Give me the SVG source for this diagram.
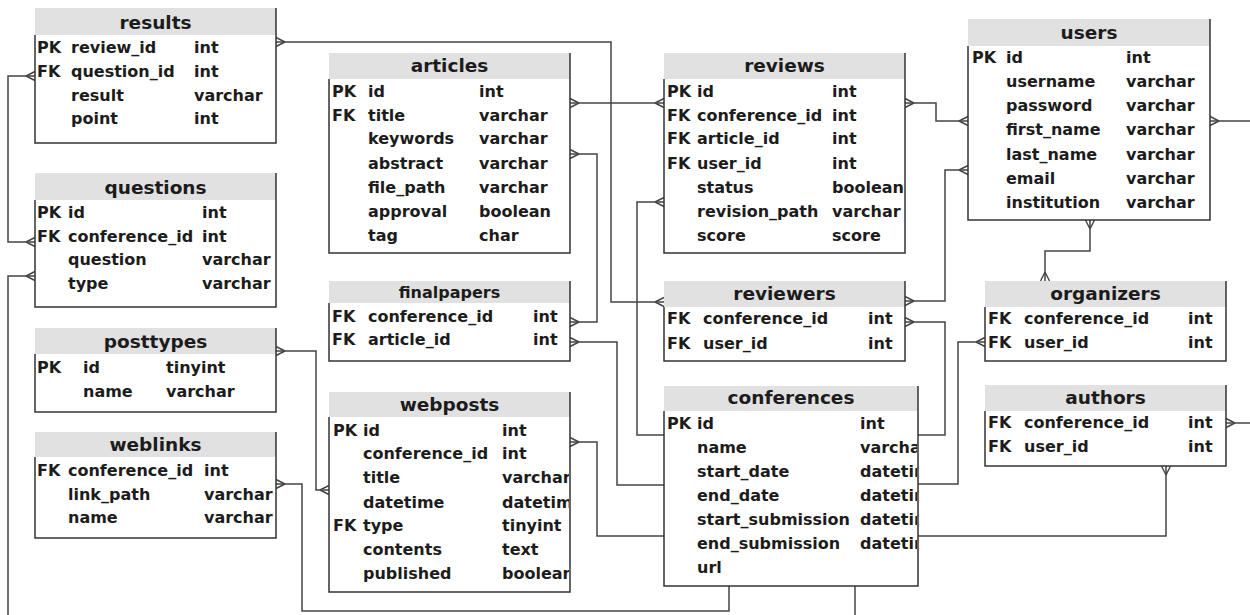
<svg xmlns="http://www.w3.org/2000/svg" width="1250" height="615" viewBox="0 0 1250 615">
<style>
text{font-family:"DejaVu Sans","Verdana",sans-serif;font-weight:bold;fill:#1c1c1c}
.t{font-size:18.5px;text-anchor:middle}
.ts{font-size:16px;text-anchor:middle}
.r{font-size:16px}
.hd{fill:#e1e1e1}
.bd{fill:#fff}
.bx{fill:none;stroke:#333;stroke-width:1.5}
.cn{fill:none;stroke:#444;stroke-width:1.5}
.cf{marker-start:url(#crow)}
.cb{marker-start:url(#crow);marker-end:url(#crow)}
</style>
<defs>
<marker id="crow" markerUnits="userSpaceOnUse" viewBox="-11 -6 12 12" refX="0" refY="0" markerWidth="12" markerHeight="12" orient="auto-start-reverse" overflow="visible">
<path d="M-9,0 L0,-4.5 M-9,0 L0,4.5" fill="none" stroke="#444" stroke-width="1.4"/>
</marker>
<clipPath id="cpWeb"><rect x="329" y="392" width="240" height="200"/></clipPath>
<clipPath id="cpConf"><rect x="664" y="386" width="253" height="200"/></clipPath>
</defs>
<rect width="1250" height="615" fill="#fff"/>

<g id="connectors">
<path class="cn cb" d="M276,42 H611 V302 H664"/>
<path class="cn cb" d="M570,103 H664"/>
<path class="cn cb" d="M570,154 H597 V322 H570"/>
<path class="cn cf" d="M570,342 H617 V485 H664"/>
<path class="cn cf" d="M664,202 H637 V435 H664"/>
<path class="cn cf" d="M570,442 H597 V536 H664"/>
<path class="cn cb" d="M905,103 H936 V121 H968"/>
<path class="cn cb" d="M905,301 H945 V170 H968"/>
<path class="cn cf" d="M905,322 H945 V435 H918"/>
<path class="cn cf" d="M985,342 H958 V484 H918"/>
<path class="cn cb" d="M1090,220 V251 H1045 V281"/>
<path class="cn cf" d="M1210,121 H1252"/>
<path class="cn cf" d="M1226,423 H1252"/>
<path class="cn cf" d="M1166,466 V536 H918"/>
<path class="cn cf" d="M276,484 H302 V611 H729 V586"/>
<path class="cn" d="M855,586 V617"/>
<path class="cn cb" d="M35,76 H8 V242 H35"/>
<path class="cn cf" d="M35,276 H8 V617"/>
<path class="cn cb" d="M276,351 H316 V490 H329"/>
</g>

<g id="results">
<rect class="bd" x="35" y="35" width="241" height="108"/>
<rect class="hd" x="35" y="8" width="241" height="27"/>
<path class="bx" d="M35,35 V143 H276 V8"/>
<text class="t" x="155.5" y="29">results</text>
<text class="r" x="37" y="53">PK</text><text class="r" x="71" y="53">review_id</text><text class="r" x="194" y="53">int</text>
<text class="r" x="37" y="77">FK</text><text class="r" x="71" y="77">question_id</text><text class="r" x="194" y="77">int</text>
<text class="r" x="71" y="101">result</text><text class="r" x="194" y="101">varchar</text>
<text class="r" x="71" y="124">point</text><text class="r" x="194" y="124">int</text>
</g>

<g id="questions">
<rect class="bd" x="35" y="200" width="241" height="107"/>
<rect class="hd" x="35" y="173" width="241" height="27"/>
<path class="bx" d="M35,200 V307 H276 V173"/>
<text class="t" x="155.5" y="194">questions</text>
<text class="r" x="37" y="218">PK</text><text class="r" x="68" y="218">id</text><text class="r" x="202" y="218">int</text>
<text class="r" x="37" y="242">FK</text><text class="r" x="68" y="242">conference_id</text><text class="r" x="202" y="242">int</text>
<text class="r" x="68" y="265">question</text><text class="r" x="202" y="265">varchar</text>
<text class="r" x="68" y="289">type</text><text class="r" x="202" y="289">varchar</text>
</g>

<g id="posttypes">
<rect class="bd" x="35" y="354" width="241" height="58"/>
<rect class="hd" x="35" y="328" width="241" height="26"/>
<path class="bx" d="M35,354 V412 H276 V328"/>
<text class="t" x="155.5" y="348">posttypes</text>
<text class="r" x="37" y="373">PK</text><text class="r" x="83" y="373">id</text><text class="r" x="166" y="373">tinyint</text>
<text class="r" x="83" y="397">name</text><text class="r" x="166" y="397">varchar</text>
</g>

<g id="weblinks">
<rect class="bd" x="35" y="457" width="241" height="81"/>
<rect class="hd" x="35" y="432" width="241" height="25"/>
<path class="bx" d="M35,457 V538 H276 V432"/>
<text class="t" x="155.5" y="451">weblinks</text>
<text class="r" x="37" y="476">FK</text><text class="r" x="68" y="476">conference_id</text><text class="r" x="204" y="476">int</text>
<text class="r" x="68" y="500">link_path</text><text class="r" x="204" y="500">varchar</text>
<text class="r" x="68" y="523">name</text><text class="r" x="204" y="523">varchar</text>
</g>

<g id="articles">
<rect class="bd" x="329" y="79" width="241" height="174"/>
<rect class="hd" x="329" y="53" width="241" height="26"/>
<path class="bx" d="M329,79 V253 H570 V53"/>
<text class="t" x="449.5" y="72">articles</text>
<text class="r" x="332" y="97">PK</text><text class="r" x="368" y="97">id</text><text class="r" x="479" y="97">int</text>
<text class="r" x="332" y="121">FK</text><text class="r" x="368" y="121">title</text><text class="r" x="479" y="121">varchar</text>
<text class="r" x="368" y="144">keywords</text><text class="r" x="479" y="144">varchar</text>
<text class="r" x="368" y="169">abstract</text><text class="r" x="479" y="169">varchar</text>
<text class="r" x="368" y="193">file_path</text><text class="r" x="479" y="193">varchar</text>
<text class="r" x="368" y="217">approval</text><text class="r" x="479" y="217">boolean</text>
<text class="r" x="368" y="241">tag</text><text class="r" x="479" y="241">char</text>
</g>

<g id="finalpapers">
<rect class="bd" x="329" y="303" width="241" height="58"/>
<rect class="hd" x="329" y="281" width="241" height="22"/>
<path class="bx" d="M329,303 V361 H570 V281"/>
<text class="ts" x="449.5" y="297.5">finalpapers</text>
<text class="r" x="332" y="322">FK</text><text class="r" x="368" y="322">conference_id</text><text class="r" x="533" y="322">int</text>
<text class="r" x="332" y="345">FK</text><text class="r" x="368" y="345">article_id</text><text class="r" x="533" y="345">int</text>
</g>

<g id="webposts">
<rect class="bd" x="329" y="417" width="241" height="175"/>
<rect class="hd" x="329" y="392" width="241" height="25"/>
<path class="bx" d="M329,417 V592 H570 V392"/>
<text class="t" x="449.5" y="411">webposts</text>
<g clip-path="url(#cpWeb)">
<text class="r" x="333" y="436">PK</text><text class="r" x="363" y="436">id</text><text class="r" x="502" y="436">int</text>
<text class="r" x="363" y="459">conference_id</text><text class="r" x="502" y="459">int</text>
<text class="r" x="363" y="483">title</text><text class="r" x="502" y="483">varchar</text>
<text class="r" x="363" y="508">datetime</text><text class="r" x="502" y="508">datetime</text>
<text class="r" x="333" y="531">FK</text><text class="r" x="363" y="531">type</text><text class="r" x="502" y="531">tinyint</text>
<text class="r" x="363" y="555">contents</text><text class="r" x="502" y="555">text</text>
<text class="r" x="363" y="579">published</text><text class="r" x="502" y="579">boolean</text>
</g>
</g>

<g id="reviews">
<rect class="bd" x="664" y="79" width="241" height="174"/>
<rect class="hd" x="664" y="53" width="241" height="26"/>
<path class="bx" d="M664,79 V253 H905 V53"/>
<text class="t" x="784.5" y="72">reviews</text>
<text class="r" x="667" y="97">PK</text><text class="r" x="697" y="97">id</text><text class="r" x="832" y="97">int</text>
<text class="r" x="667" y="121">FK</text><text class="r" x="697" y="121">conference_id</text><text class="r" x="832" y="121">int</text>
<text class="r" x="667" y="144">FK</text><text class="r" x="697" y="144">article_id</text><text class="r" x="832" y="144">int</text>
<text class="r" x="667" y="169">FK</text><text class="r" x="697" y="169">user_id</text><text class="r" x="832" y="169">int</text>
<text class="r" x="697" y="193">status</text><text class="r" x="832" y="193">boolean</text>
<text class="r" x="697" y="217">revision_path</text><text class="r" x="832" y="217">varchar</text>
<text class="r" x="697" y="241">score</text><text class="r" x="832" y="241">score</text>
</g>

<g id="reviewers">
<rect class="bd" x="664" y="307" width="241" height="54"/>
<rect class="hd" x="664" y="281" width="241" height="26"/>
<path class="bx" d="M664,307 V361 H905 V281"/>
<text class="t" x="784.5" y="300">reviewers</text>
<text class="r" x="667" y="324">FK</text><text class="r" x="703" y="324">conference_id</text><text class="r" x="868" y="324">int</text>
<text class="r" x="667" y="349">FK</text><text class="r" x="703" y="349">user_id</text><text class="r" x="868" y="349">int</text>
</g>

<g id="conferences">
<rect class="bd" x="664" y="411" width="254" height="175"/>
<rect class="hd" x="664" y="386" width="254" height="25"/>
<path class="bx" d="M664,411 V586 H918 V386"/>
<text class="t" x="791" y="404">conferences</text>
<g clip-path="url(#cpConf)">
<text class="r" x="667" y="429">PK</text><text class="r" x="697" y="429">id</text><text class="r" x="860" y="429">int</text>
<text class="r" x="697" y="453">name</text><text class="r" x="860" y="453">varchar</text>
<text class="r" x="697" y="477">start_date</text><text class="r" x="860" y="477">datetime</text>
<text class="r" x="697" y="501">end_date</text><text class="r" x="860" y="501">datetime</text>
<text class="r" x="697" y="525">start_submission</text><text class="r" x="860" y="525">datetime</text>
<text class="r" x="697" y="549">end_submission</text><text class="r" x="860" y="549">datetime</text>
<text class="r" x="697" y="573">url</text>
</g>
</g>

<g id="users">
<rect class="bd" x="968" y="46" width="242" height="174"/>
<rect class="hd" x="968" y="19" width="242" height="27"/>
<path class="bx" d="M968,46 V220 H1210 V19"/>
<text class="t" x="1089" y="39">users</text>
<text class="r" x="972" y="63">PK</text><text class="r" x="1006" y="63">id</text><text class="r" x="1126" y="63">int</text>
<text class="r" x="1006" y="87">username</text><text class="r" x="1126" y="87">varchar</text>
<text class="r" x="1006" y="111">password</text><text class="r" x="1126" y="111">varchar</text>
<text class="r" x="1006" y="135">first_name</text><text class="r" x="1126" y="135">varchar</text>
<text class="r" x="1006" y="160">last_name</text><text class="r" x="1126" y="160">varchar</text>
<text class="r" x="1006" y="184">email</text><text class="r" x="1126" y="184">varchar</text>
<text class="r" x="1006" y="208">institution</text><text class="r" x="1126" y="208">varchar</text>
</g>

<g id="organizers">
<rect class="bd" x="985" y="307" width="241" height="54"/>
<rect class="hd" x="985" y="281" width="241" height="26"/>
<path class="bx" d="M985,307 V361 H1226 V281"/>
<text class="t" x="1105.5" y="300">organizers</text>
<text class="r" x="988" y="324">FK</text><text class="r" x="1024" y="324">conference_id</text><text class="r" x="1188" y="324">int</text>
<text class="r" x="988" y="348">FK</text><text class="r" x="1024" y="348">user_id</text><text class="r" x="1188" y="348">int</text>
</g>

<g id="authors">
<rect class="bd" x="985" y="411" width="241" height="55"/>
<rect class="hd" x="985" y="385" width="241" height="26"/>
<path class="bx" d="M985,411 V466 H1226 V385"/>
<text class="t" x="1105.5" y="404">authors</text>
<text class="r" x="988" y="428">FK</text><text class="r" x="1024" y="428">conference_id</text><text class="r" x="1188" y="428">int</text>
<text class="r" x="988" y="452">FK</text><text class="r" x="1024" y="452">user_id</text><text class="r" x="1188" y="452">int</text>
</g>
</svg>
